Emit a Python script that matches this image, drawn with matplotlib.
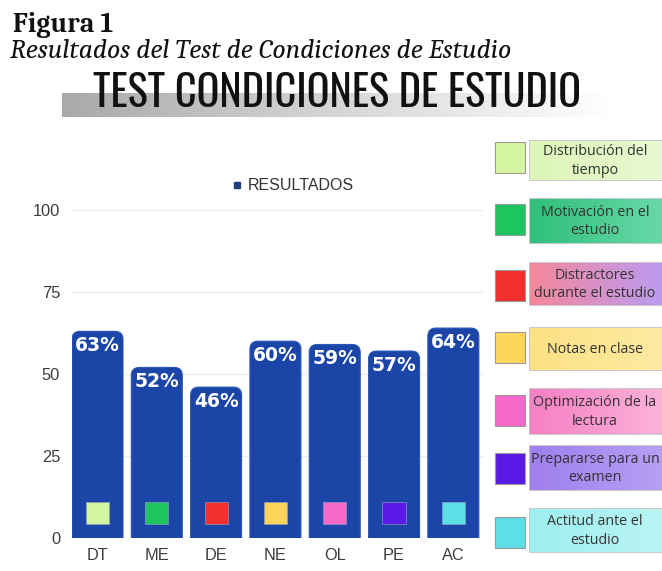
import numpy as np
import matplotlib
matplotlib.use('Agg')
import matplotlib.pyplot as plt
from matplotlib.patches import FancyBboxPatch, Rectangle
from matplotlib.lines import Line2D
from matplotlib.colors import LinearSegmentedColormap

# Resultados del test por dimensión
CATEGORIES = ['DT', 'ME', 'DE', 'NE', 'OL', 'PE', 'AC']
RESULTADOS = [63, 52, 46, 60, 59, 57, 64]
DESCRIPCIONES = [
    'Distribución del\ntiempo',
    'Motivación en el\nestudio',
    'Distractores\ndurante el estudio',
    'Notas en clase',
    'Optimización de la\nlectura',
    'Prepararse para un\nexamen',
    'Actitud ante el\nestudio',
]
SQUARE_COLORS = ['#d4f5a0', '#1ec45e', '#f3302b', '#fdd45c', '#f768c8', '#5a1ae6', '#5ce0e6']
BOX_COLORS = [
    ('#dcf5b8', '#e9f9d2'),
    ('#2fbf79', '#6ad9aa'),
    ('#f5879a', '#b99cf4'),
    ('#fde184', '#fdeaa2'),
    ('#f67fc3', '#fbb4db'),
    ('#9f7fee', '#b7a0f5'),
    ('#9eeff0', '#baf4f4'),
]
YTICKS = [0, 25, 50, 75, 100]

BAR_BLUE = '#1b46a8'
W, H = 662, 571

fig = plt.figure(figsize=(W / 100, H / 100), dpi=100)

# encabezado
fig.text(13 / W, 1 - 31.5 / H, 'Figura 1', family=['Caladea', 'DejaVu Serif'],
         weight='bold', fontsize=20, va='baseline', ha='left', color='#111111')
fig.text(10 / W, 1 - 58 / H, 'Resultados del Test de Condiciones de Estudio',
         family=['Caladea', 'DejaVu Serif'], style='italic', fontsize=19.8,
         va='baseline', ha='left', color='#111111')

# franja gris degradada detrás del título
band = fig.add_axes([62 / W, 1 - 117 / H, 553 / W, 24 / H])
grad = np.linspace(0, 1, 256).reshape(1, -1)
band.imshow(grad, aspect='auto',
            cmap=LinearSegmentedColormap.from_list('gris', ['#a9a9a9', '#d6d6d6', '#ffffff']))
band.axis('off')

fig.text(93 / W, 1 - 107 / H, 'TEST CONDICIONES DE ESTUDIO',
         family=['Oswald', 'DejaVu Sans'], fontsize=30.5, va='baseline',
         ha='left', color='#111111')

# gráfico de barras
ax = fig.add_axes([72 / W, 1 - 538 / H, 411 / W, 328 / H])
pos = np.arange(len(CATEGORIES))
bars = ax.bar(pos, RESULTADOS, width=0.86, color=BAR_BLUE, zorder=2)

# barras con esquinas superiores redondeadas
for rect, val in zip(bars, RESULTADOS):
    x0, w, h = rect.get_x(), rect.get_width(), rect.get_height()
    rect.set_visible(False)
    ax.add_patch(FancyBboxPatch((x0, -10), w, h + 10,
                                boxstyle='round,pad=0,rounding_size=0.135',
                                mutation_aspect=18, fc=BAR_BLUE, ec='#2a57b8',
                                lw=0.8, zorder=2))
    ax.text(x0 + w / 2, val - 6.1, f'{val}%', ha='center', va='baseline',
            color='white', fontsize=13.5, weight='bold', family='DejaVu Sans', zorder=3)

# cuadro de color de cada dimensión
ax.bar(pos, [6.8] * len(pos), bottom=4.3, width=0.39, color=SQUARE_COLORS,
       edgecolor='#9aa6c8', linewidth=0.4, zorder=3)

ax.set_xlim(-0.43, 6.50)
ax.set_ylim(0, 100)
ax.set_yticks(YTICKS)
ax.set_xticks(pos)
ax.set_xticklabels(CATEGORIES)
ax.grid(axis='y', color='#ececec', linewidth=0.8, zorder=0)
ax.set_axisbelow(True)
for s in ax.spines.values():
    s.set_visible(False)
ax.tick_params(axis='y', length=0, pad=8.6, labelsize=11.8, labelcolor='#3c3c3c')
ax.tick_params(axis='x', length=0, pad=7.2, labelsize=11.8, labelcolor='#3c3c3c')
for lab in ax.get_xticklabels() + ax.get_yticklabels():
    lab.set_family(['Liberation Sans', 'DejaVu Sans'])

handle = Line2D([], [], marker='s', ls='', color='#1e3f7a', markersize=4)
fig.legend([handle], ['RESULTADOS'], loc='center', frameon=False,
           bbox_to_anchor=(292 / W, 1 - 186 / H), bbox_transform=fig.transFigure,
           handletextpad=0.3, handlelength=0.8,
           prop={'family': ['Liberation Sans', 'DejaVu Sans'], 'size': 11.5},
           labelcolor='#333333')

# panel de descripciones a la derecha
pan = fig.add_axes([0, 0, 1, 1], facecolor='none')
pan.axis('off')

box_top = [140, 198, 262, 327, 388, 445, 508]
box_bot = [180, 243, 305, 370, 434, 490, 552]
sq_top = [142, 204, 270, 332, 395, 453, 517]

for i, desc in enumerate(DESCRIPCIONES):
    c0, c1 = BOX_COLORS[i]
    cmap = LinearSegmentedColormap.from_list(f'caja{i}', [c0, c1])
    pan.imshow(grad, aspect='auto', cmap=cmap,
               extent=(529, 666, box_bot[i], box_top[i]), zorder=1)
    pan.add_patch(Rectangle((529, box_top[i]), 137, box_bot[i] - box_top[i],
                            fc='none', ec='#c9c9c9', lw=0.7, zorder=2))
    pan.add_patch(Rectangle((495, sq_top[i]), 30, 31, fc=SQUARE_COLORS[i],
                            ec='#9a9a9a', lw=0.8, zorder=2))
    pan.text(595, (box_top[i] + box_bot[i]) / 2 + 1, desc, ha='center', va='center',
             fontsize=10.3, family=['Open Sans', 'DejaVu Sans'], color='#333333',
             linespacing=1.3, zorder=3)
pan.set_xlim(0, W)
pan.set_ylim(H, 0)

fig.savefig('out.png', dpi=100)
